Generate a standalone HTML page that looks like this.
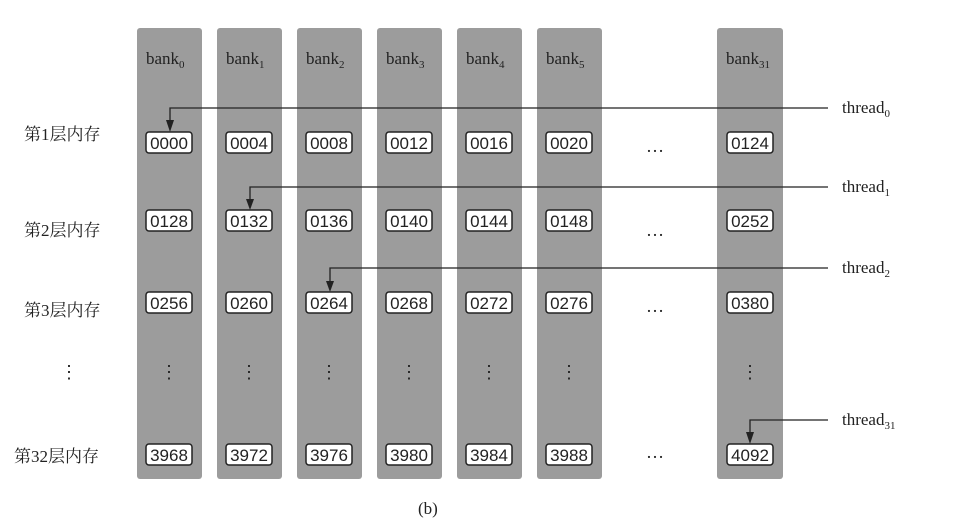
<!DOCTYPE html>
<html><head><meta charset="utf-8"><style>
body{margin:0;background:#fff;}
svg{display:block;}
text{font-family:"Liberation Serif","Noto Serif CJK SC",serif;}
.num{font-size:17px;fill:#222;text-anchor:middle;font-family:"Liberation Sans",sans-serif;}
.cn{font-family:"Liberation Sans","Noto Sans CJK SC",sans-serif;font-size:17px;fill:#222;}
.b{fill:#fff;stroke:#222;stroke-width:1.5;}
</style></head><body>
<svg width="962" height="528" viewBox="0 0 962 528" xmlns="http://www.w3.org/2000/svg">
<g fill="#9c9c9c">
<rect x="137" y="28" width="65" height="451" rx="3"/>
<rect x="217" y="28" width="65" height="451" rx="3"/>
<rect x="297" y="28" width="65" height="451" rx="3"/>
<rect x="377" y="28" width="65" height="451" rx="3"/>
<rect x="457" y="28" width="65" height="451" rx="3"/>
<rect x="537" y="28" width="65" height="451" rx="3"/>
<rect x="717" y="28" width="66" height="451" rx="3"/>
</g>
<g font-size="17" fill="#222">
<text x="146" y="64">bank<tspan font-size="11" dy="4">0</tspan></text>
<text x="226" y="64">bank<tspan font-size="11" dy="4">1</tspan></text>
<text x="306" y="64">bank<tspan font-size="11" dy="4">2</tspan></text>
<text x="386" y="64">bank<tspan font-size="11" dy="4">3</tspan></text>
<text x="466" y="64">bank<tspan font-size="11" dy="4">4</tspan></text>
<text x="546" y="64">bank<tspan font-size="11" dy="4">5</tspan></text>
<text x="726" y="64">bank<tspan font-size="11" dy="4">31</tspan></text>
</g>
<g class="cn">
<text x="24" y="140">第1层内存</text>
<text x="24" y="236">第2层内存</text>
<text x="24" y="316">第3层内存</text>
<text x="14" y="462">第32层内存</text>
</g>
<g>
<rect class="b" x="146" y="132" width="46" height="21" rx="3"/><text class="num" x="169" y="149">0000</text>
<rect class="b" x="226" y="132" width="46" height="21" rx="3"/><text class="num" x="249" y="149">0004</text>
<rect class="b" x="306" y="132" width="46" height="21" rx="3"/><text class="num" x="329" y="149">0008</text>
<rect class="b" x="386" y="132" width="46" height="21" rx="3"/><text class="num" x="409" y="149">0012</text>
<rect class="b" x="466" y="132" width="46" height="21" rx="3"/><text class="num" x="489" y="149">0016</text>
<rect class="b" x="546" y="132" width="46" height="21" rx="3"/><text class="num" x="569" y="149">0020</text>
<rect class="b" x="727" y="132" width="46" height="21" rx="3"/><text class="num" x="750" y="149">0124</text>

<rect class="b" x="146" y="210" width="46" height="21" rx="3"/><text class="num" x="169" y="227">0128</text>
<rect class="b" x="226" y="210" width="46" height="21" rx="3"/><text class="num" x="249" y="227">0132</text>
<rect class="b" x="306" y="210" width="46" height="21" rx="3"/><text class="num" x="329" y="227">0136</text>
<rect class="b" x="386" y="210" width="46" height="21" rx="3"/><text class="num" x="409" y="227">0140</text>
<rect class="b" x="466" y="210" width="46" height="21" rx="3"/><text class="num" x="489" y="227">0144</text>
<rect class="b" x="546" y="210" width="46" height="21" rx="3"/><text class="num" x="569" y="227">0148</text>
<rect class="b" x="727" y="210" width="46" height="21" rx="3"/><text class="num" x="750" y="227">0252</text>

<rect class="b" x="306" y="292" width="46" height="21" rx="3"/><text class="num" x="329" y="309">0264</text>
<rect class="b" x="146" y="292" width="46" height="21" rx="3"/><text class="num" x="169" y="309">0256</text>
<rect class="b" x="226" y="292" width="46" height="21" rx="3"/><text class="num" x="249" y="309">0260</text>
<rect class="b" x="386" y="292" width="46" height="21" rx="3"/><text class="num" x="409" y="309">0268</text>
<rect class="b" x="466" y="292" width="46" height="21" rx="3"/><text class="num" x="489" y="309">0272</text>
<rect class="b" x="546" y="292" width="46" height="21" rx="3"/><text class="num" x="569" y="309">0276</text>
<rect class="b" x="727" y="292" width="46" height="21" rx="3"/><text class="num" x="750" y="309">0380</text>

<rect class="b" x="146" y="444" width="46" height="21" rx="3"/><text class="num" x="169" y="461">3968</text>
<rect class="b" x="226" y="444" width="46" height="21" rx="3"/><text class="num" x="249" y="461">3972</text>
<rect class="b" x="306" y="444" width="46" height="21" rx="3"/><text class="num" x="329" y="461">3976</text>
<rect class="b" x="386" y="444" width="46" height="21" rx="3"/><text class="num" x="409" y="461">3980</text>
<rect class="b" x="466" y="444" width="46" height="21" rx="3"/><text class="num" x="489" y="461">3984</text>
<rect class="b" x="546" y="444" width="46" height="21" rx="3"/><text class="num" x="569" y="461">3988</text>
<rect class="b" x="727" y="444" width="46" height="21" rx="3"/><text class="num" x="750" y="461">4092</text>
</g>
<g fill="#222" font-size="18" text-anchor="middle">
<text x="69" y="378">⋮</text>
<text x="169" y="378">⋮</text><text x="249" y="378">⋮</text><text x="329" y="378">⋮</text><text x="409" y="378">⋮</text><text x="489" y="378">⋮</text><text x="569" y="378">⋮</text><text x="750" y="378">⋮</text>
<text x="655" y="152">…</text><text x="655" y="236">…</text><text x="655" y="312">…</text><text x="655" y="458">…</text>
</g>
<g stroke="#222" stroke-width="1.3" fill="none">
<path d="M828,108 H170 V122"/>
<path d="M828,187 H250 V201"/>
<path d="M828,268 H330 V283"/>
<path d="M828,420 H750 V434"/>
</g>
<g fill="#222">
<path d="M166,120 L174,120 L170,132 Z"/>
<path d="M246,199 L254,199 L250,210 Z"/>
<path d="M326,281 L334,281 L330,292 Z"/>
<path d="M746,432 L754,432 L750,444 Z"/>
</g>
<g font-size="17" fill="#222">
<text x="842" y="113">thread<tspan font-size="11" dy="4">0</tspan></text>
<text x="842" y="192">thread<tspan font-size="11" dy="4">1</tspan></text>
<text x="842" y="273">thread<tspan font-size="11" dy="4">2</tspan></text>
<text x="842" y="425">thread<tspan font-size="11" dy="4">31</tspan></text>
<text x="418" y="514">(b)</text>
</g>
</svg>
</body></html>
